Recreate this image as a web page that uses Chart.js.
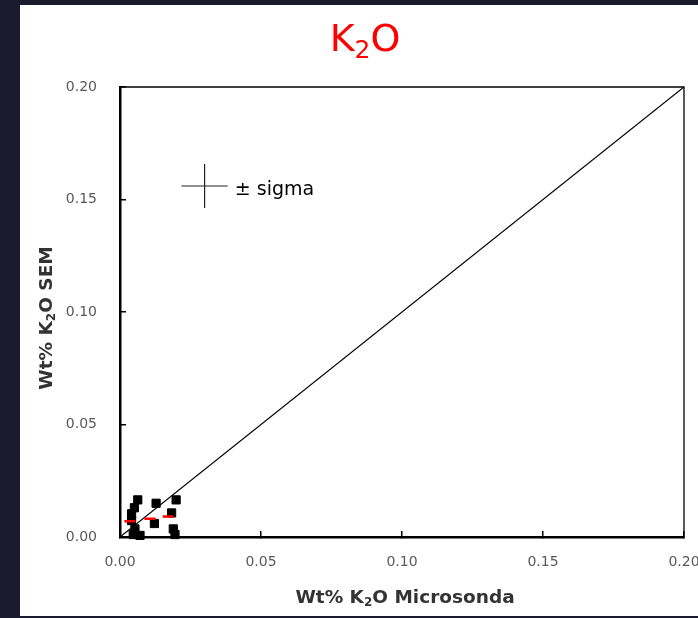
<!DOCTYPE html>
<html>
<head>
<meta charset="utf-8">
<script src="https://cdn.jsdelivr.net/npm/chart.js@4/dist/chart.umd.min.js"></script>
<style>
  html, body { margin: 0; padding: 0; background: #1b1b2d; }
  #panel { position: absolute; left: 20px; top: 5px; width: 678px; height: 611px; background: #fff; }
  #panel canvas { display: block; }
</style>
</head>
<body>
<div id="panel"><canvas id="k2oChart" width="678" height="611"></canvas></div>
<script>
// K2O: microprobe vs SEM (wt%)
const microsonda = [0.0063, 0.0128, 0.0199, 0.0051, 0.0041, 0.0183, 0.0122, 0.0053, 0.0189, 0.0047, 0.0071, 0.0195, 0.0041];
const sem        = [0.0165, 0.0150, 0.0165, 0.0130, 0.0103, 0.0107, 0.0060, 0.0036, 0.0036, 0.0011, 0.0007, 0.0011, 0.0073];
const redMicrosonda = [0.0035, 0.0106, 0.0171];
const redSem        = [0.0070, 0.0081, 0.0091];
const oneToOne = [0, 0.2];
const sigmaCenter = [0.030, 0.156];
const sigmaX = 0.0082;
const sigmaY = 0.0098;
const tickValues = [0, 0.05, 0.10, 0.15, 0.20];

const FONT = "'DejaVu Sans', sans-serif";

function pts(xs, ys) {
  return xs.map((x, i) => ({ x: x, y: ys[i] }));
}

// draws text pieces with optional subscripts, centred on (cx, cy)
function richText(ctx, parts, cx, cy, size, weight, color, rotate) {
  ctx.save();
  ctx.translate(cx, cy);
  if (rotate) ctx.rotate(-Math.PI / 2);
  ctx.fillStyle = color;
  ctx.textBaseline = "middle";
  ctx.textAlign = "left";
  const subSize = Math.round(size * 0.65);
  let total = 0;
  parts.forEach(p => {
    ctx.font = weight + " " + (p.sub ? subSize : size) + "px " + FONT;
    p.w = ctx.measureText(p.t).width;
    total += p.w;
  });
  let x = -total / 2;
  parts.forEach(p => {
    ctx.font = weight + " " + (p.sub ? subSize : size) + "px " + FONT;
    ctx.fillText(p.t, x, p.sub ? size * 0.28 : 0);
    x += p.w;
  });
  ctx.restore();
}

const decorations = {
  id: "decorations",
  afterDraw(chart) {
    const { ctx, chartArea: a, scales } = chart;
    // top and right frame
    ctx.save();
    ctx.strokeStyle = "#000";
    ctx.lineWidth = 1.3;
    ctx.beginPath();
    ctx.moveTo(a.left, a.top);
    ctx.lineTo(a.right, a.top);
    ctx.lineTo(a.right, a.bottom);
    ctx.stroke();
    ctx.restore();

    richText(ctx, [{ t: "K" }, { t: "2", sub: true }, { t: "O" }], 345, 36, 38, "normal", "#ff0000");
    richText(ctx, [{ t: "Wt% K" }, { t: "2", sub: true }, { t: "O Microsonda" }],
      (a.left + a.right) / 2 + 3, 593, 18.5, "bold", "#333");
    richText(ctx, [{ t: "Wt% K" }, { t: "2", sub: true }, { t: "O SEM" }],
      27, (a.top + a.bottom) / 2 + 6, 18.5, "bold", "#333", true);

    // sigma label
    ctx.save();
    ctx.fillStyle = "#000";
    ctx.font = "normal 19px " + FONT;
    ctx.textBaseline = "middle";
    ctx.fillText("± sigma", scales.x.getPixelForValue(sigmaCenter[0] + sigmaX + 0.0025),
      scales.y.getPixelForValue(sigmaCenter[1]) + 4);
    ctx.restore();
  }
};

const axisBase = {
  type: "linear",
  min: 0,
  max: 0.2,
  border: { display: true, color: "#000", width: 2.5 },
  grid: { drawOnChartArea: false, drawTicks: true, tickLength: -6, color: "#000", lineWidth: 1.5 },
  afterBuildTicks: s => { s.ticks = tickValues.map(v => ({ value: v })); },
};

new Chart(document.getElementById("k2oChart"), {
  type: "scatter",
  data: {
    datasets: [
      {
        type: "line",
        data: pts(oneToOne, oneToOne),
        borderColor: "#000",
        borderWidth: 1.2,
        pointRadius: 0,
        order: 3,
      },
      {
        type: "line",
        data: [{ x: sigmaCenter[0] - sigmaX, y: sigmaCenter[1] }, { x: sigmaCenter[0] + sigmaX, y: sigmaCenter[1] }],
        borderColor: "#222",
        borderWidth: 1.2,
        pointRadius: 0,
      },
      {
        type: "line",
        data: [{ x: sigmaCenter[0], y: sigmaCenter[1] - sigmaY }, { x: sigmaCenter[0], y: sigmaCenter[1] + sigmaY }],
        borderColor: "#222",
        borderWidth: 1.2,
        pointRadius: 0,
      },
      {
        data: pts(microsonda, sem),
        pointStyle: "rect",
        pointRadius: 5.8,
        borderWidth: 1,
        backgroundColor: "#000",
        borderColor: "#000",
        clip: false,
        order: 2,
      },
      {
        data: pts(redMicrosonda, redSem),
        pointStyle: "line",
        pointRadius: 5.5,
        borderWidth: 2.5,
        borderColor: "#ff0000",
        backgroundColor: "#ff0000",
        clip: false,
        order: 1,
      },
    ],
  },
  options: {
    responsive: false,
    animation: false,
    layout: { padding: { top: 82, right: 14, left: 0, bottom: 0 } },
    plugins: { legend: { display: false }, tooltip: { enabled: false }, title: { display: false } },
    scales: {
      x: Object.assign({}, axisBase, {
        position: "bottom",
        ticks: {
          padding: 23,
          color: "#595959",
          font: { family: FONT, size: 14 },
          callback: v => v.toFixed(2),
        },
        afterFit: s => { s.height = 79; s.paddingLeft = 0; s.paddingRight = 0; },
      }),
      y: Object.assign({}, axisBase, {
        position: "left",
        ticks: {
          padding: 29,
          color: "#595959",
          font: { family: FONT, size: 14 },
          callback: v => v.toFixed(2),
        },
        afterFit: s => { s.width = 100; s.paddingTop = 0; s.paddingBottom = 0; },
      }),
    },
  },
  plugins: [decorations],
});
</script>
</body>
</html>
